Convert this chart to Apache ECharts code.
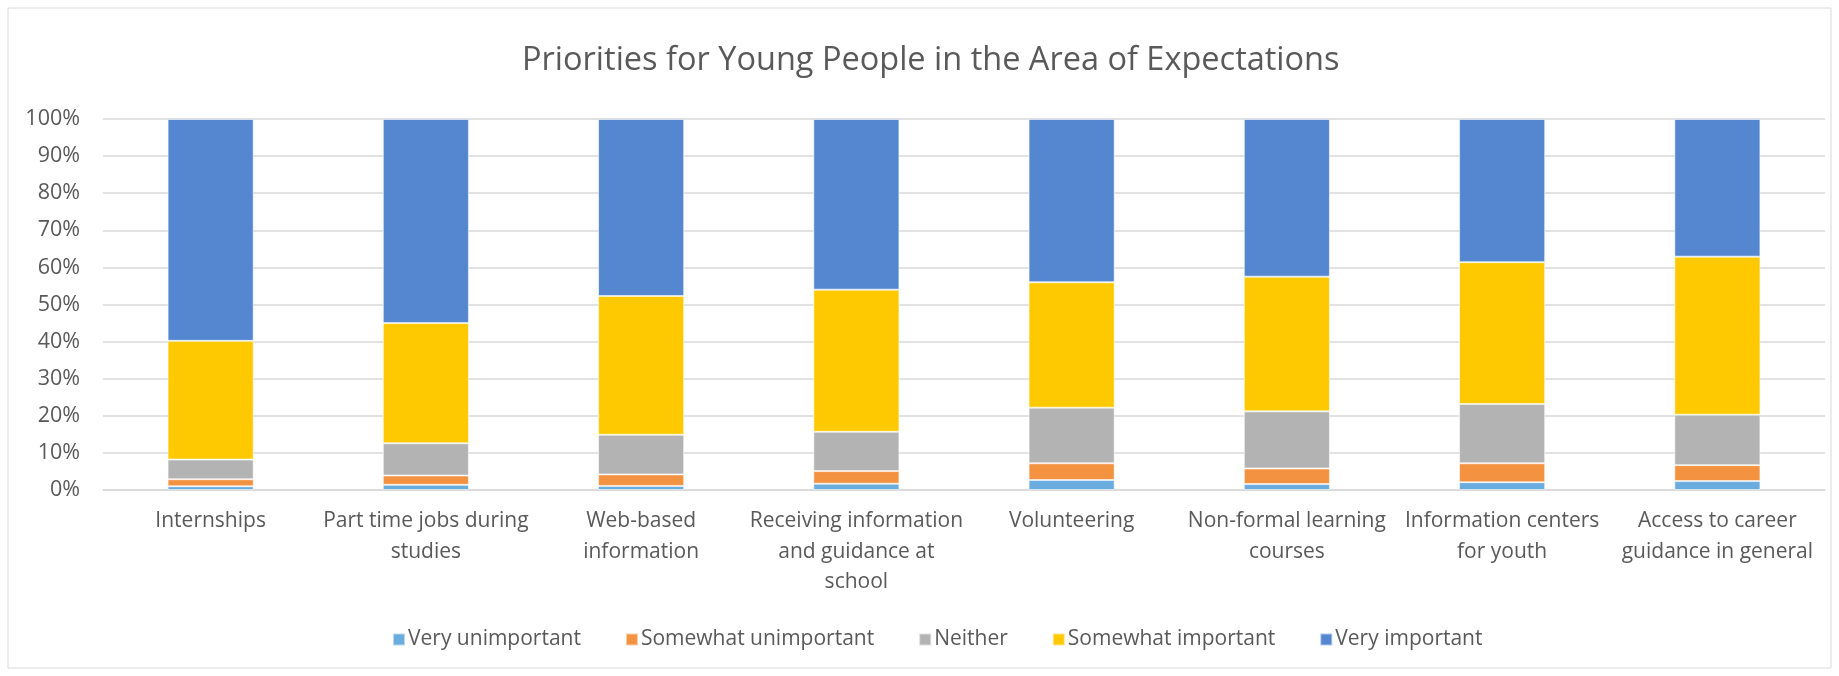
<!DOCTYPE html>
<html>
<head>
<meta charset="utf-8">
<script src="https://cdn.jsdelivr.net/npm/echarts@6/dist/echarts.min.js"></script>
<style>
  html, body { margin: 0; padding: 0; background: #fff; }
  #chart { width: 1839px; height: 676px; }
</style>
</head>
<body>
<div id="chart"></div>
<script>
// Survey answers, share of respondents (%) per item
const categories = [
  'Internships',
  'Part time jobs during\nstudies',
  'Web-based\ninformation',
  'Receiving information\nand guidance at\nschool',
  'Volunteering',
  'Non-formal learning\ncourses',
  'Information centers\nfor youth',
  'Access to career\nguidance in general'
];
const veryUnimportant     = [1.0, 1.4, 1.1, 1.7, 2.7, 1.6, 2.1, 2.4];
const somewhatUnimportant = [1.9, 2.5, 3.1, 3.4, 4.5, 4.2, 5.1, 4.3];
const neither             = [5.3, 8.7, 10.7, 10.6, 15.0, 15.4, 16.0, 13.6];
const somewhatImportant   = [32.0, 32.4, 37.4, 38.3, 33.8, 36.3, 38.2, 42.6];
const veryImportant       = [59.8, 55.0, 47.7, 46.0, 44.0, 42.5, 38.6, 37.1];

const seriesNames  = ['Very unimportant', 'Somewhat unimportant', 'Neither', 'Somewhat important', 'Very important'];
const seriesData   = [veryUnimportant, somewhatUnimportant, neither, somewhatImportant, veryImportant];
const seriesColors = ['#6AACDD', '#F39241', '#B3B3B3', '#FFC900', '#5587D0'];

const FONT = '"Open Sans", "Noto Sans", sans-serif';
const TEXT = '#595959';

const chart = echarts.init(document.getElementById('chart'), null, { renderer: 'canvas' });

chart.setOption({
  backgroundColor: '#ffffff',
  animation: false,
  graphic: [{
    type: 'rect',
    shape: { x: 8, y: 8, width: 1823, height: 660 },
    style: { fill: 'none', stroke: '#D9D9D9', lineWidth: 1 },
    silent: true, z: -1
  }],
  title: {
    text: 'Priorities for Young People in the Area of Expectations',
    left: 522,
    top: 44,
    padding: 0,
    textStyle: { fontFamily: FONT, fontSize: 32.5, fontWeight: 'normal', color: TEXT }
  },
  legend: {
    data: seriesNames,
    bottom: 21,
    left: 387,
    itemWidth: 12,
    itemHeight: 12,
    itemGap: 44,
    icon: 'rect',
    textStyle: { fontFamily: FONT, fontSize: 21, color: TEXT, padding: [0, 0, 0, -2] }
  },
  grid: { left: 103, right: 14, top: 119, bottom: 186, containLabel: false },
  xAxis: {
    type: 'category',
    data: categories,
    axisLine: { show: true, lineStyle: { color: '#D9D9D9', width: 1.5 } },
    axisTick: { show: false },
    axisLabel: {
      interval: 0,
      margin: 16,
      fontFamily: FONT, fontSize: 21, color: TEXT, lineHeight: 30.5, align: 'center'
    }
  },
  yAxis: {
    type: 'value',
    min: 0, max: 100, interval: 10,
    axisLine: { show: false },
    axisTick: { show: false },
    splitLine: { lineStyle: { color: '#D9D9D9', width: 1.5 } },
    axisLabel: {
      margin: 23,
      formatter: '{value}%',
      fontFamily: FONT, fontSize: 21.5, color: TEXT
    }
  },
  series: seriesNames.map((name, i) => ({
    name: name,
    type: 'bar',
    stack: 'total',
    barWidth: '40%',
    data: seriesData[i],
    itemStyle: { color: seriesColors[i], borderColor: 'rgba(255,255,255,0.55)', borderWidth: 1 }
  }))
});
</script>
</body>
</html>
